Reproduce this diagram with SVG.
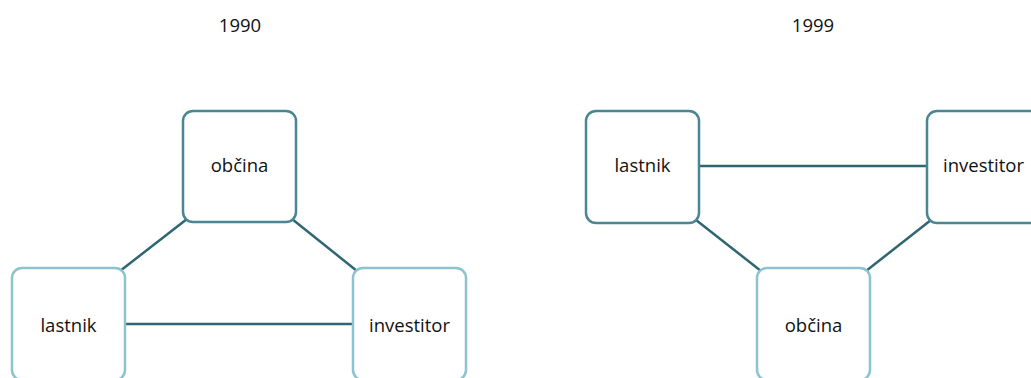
<svg xmlns="http://www.w3.org/2000/svg" width="1031" height="378" viewBox="0 0 1031 378">
  <style>
    .box { fill: #ffffff; stroke-width: 2.5; }
    .dark { stroke: #4a8592; }
    .light { stroke: #8cc3cf; }
    .lbl { font-family: "Open Sans", "Liberation Sans", sans-serif; font-size: 18.5px; fill: #111111; text-anchor: middle; }
    .edge { stroke: #2f6672; stroke-width: 2.5; fill: none; }
  </style>
  <rect width="1031" height="378" fill="#ffffff"/>

  <text class="lbl" x="240" y="31.5">1990</text>
  <text class="lbl" x="813" y="31.5">1999</text>

  <g id="connectors">
    <line class="edge" x1="187" y1="219" x2="120" y2="271"/>
    <line class="edge" x1="292" y1="219" x2="357" y2="271"/>
    <line class="edge" x1="125" y1="324" x2="353" y2="324"/>
    <line class="edge" x1="699" y1="166" x2="927" y2="166"/>
    <line class="edge" x1="696" y1="220" x2="761" y2="271"/>
    <line class="edge" x1="931" y1="220" x2="866" y2="271"/>
  </g>

  <g id="obcina-1990">
    <rect class="box dark" x="183" y="111" width="113" height="111" rx="10"/>
    <text class="lbl" x="239.5" y="171.5">občina</text>
  </g>
  <g id="lastnik-1990">
    <rect class="box light" x="12" y="268" width="113" height="112" rx="10"/>
    <text class="lbl" x="68.5" y="331.5">lastnik</text>
  </g>
  <g id="investitor-1990">
    <rect class="box light" x="353" y="268" width="113" height="112" rx="10"/>
    <text class="lbl" x="409.5" y="331.5">investitor</text>
  </g>

  <g id="lastnik-1999">
    <rect class="box dark" x="586" y="111" width="113" height="112" rx="10"/>
    <text class="lbl" x="642.5" y="171.5">lastnik</text>
  </g>
  <g id="investitor-1999">
    <rect class="box dark" x="927" y="111" width="113" height="112" rx="10"/>
    <text class="lbl" x="983.5" y="171.5">investitor</text>
  </g>
  <g id="obcina-1999">
    <rect class="box light" x="757" y="268" width="113" height="112" rx="10"/>
    <text class="lbl" x="813.5" y="331.5">občina</text>
  </g>
</svg>
